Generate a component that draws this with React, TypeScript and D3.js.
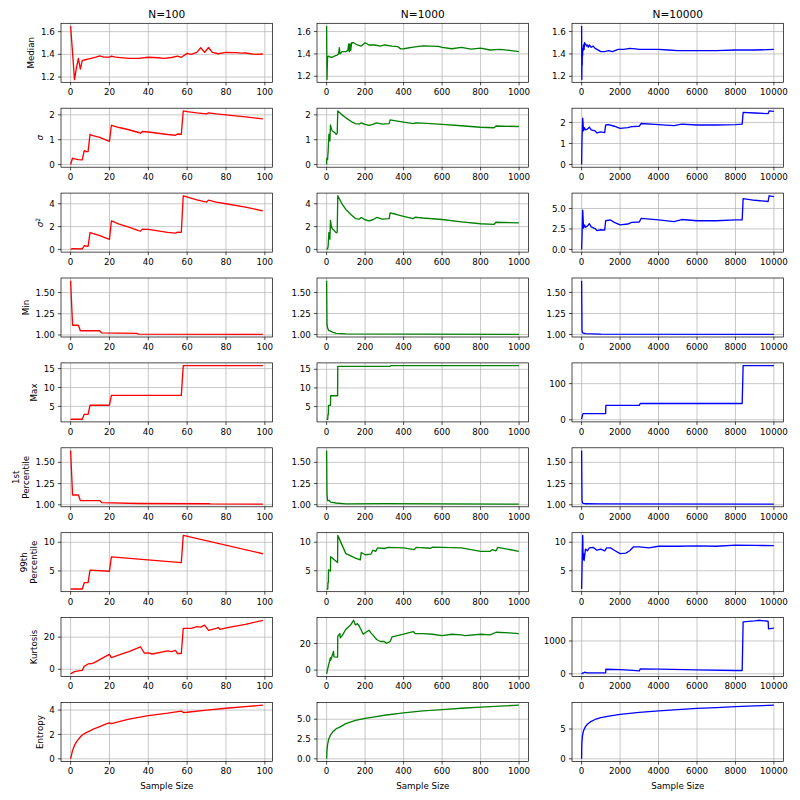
import { useEffect, useRef } from 'react'
import * as d3 from 'd3'

type Pt = [number, number]

const sampleSizes = [100, 1000, 10000]
const lineColors = ['#ff0000', '#008000', '#0000ff']
const rowLabels = [
  ['Median'], ['σ'], ['σ2'], ['Min'], ['Max'],
  ['1st', 'Percentile'], ['99th', 'Percentile'], ['Kurtosis'], ['Entropy'],
]
const xTicks = [
  [0, 20, 40, 60, 80, 100],
  [0, 200, 400, 600, 800, 1000],
  [0, 2000, 4000, 6000, 8000, 10000],
]
// y ticks per row, per column
const yTicks = [
  [[1.2, 1.4, 1.6], [1.2, 1.4, 1.6], [1.2, 1.4, 1.6]],
  [[0, 1, 2], [0, 1, 2], [0, 1, 2]],
  [[0, 2, 4], [0, 2, 4], [0, 2.5, 5]],
  [[1, 1.25, 1.5], [1, 1.25, 1.5], [1, 1.25, 1.5]],
  [[5, 10, 15], [5, 10, 15], [0, 100]],
  [[1, 1.25, 1.5], [1, 1.25, 1.5], [1, 1.25, 1.5]],
  [[5, 10], [5, 10], [5, 10]],
  [[0, 20], [0, 20], [0, 1000]],
  [[0, 2, 4], [0, 2.5, 5], [0, 5]],
]

// ---- N=100 ----
const medianN100: Pt[] = [[0,1.65],[2,1.177],[3,1.28],[4,1.365],[5,1.27],[6,1.345],[7,1.35],[10,1.362],[13,1.375],[15,1.387],[17,1.375],[20,1.375],[21,1.385],[23,1.375],[30,1.365],[35,1.365],[40,1.374],[45,1.37],[48,1.365],[52,1.372],[55,1.385],[57,1.374],[60,1.408],[62,1.4],[65,1.417],[67,1.458],[69,1.417],[71,1.46],[73,1.417],[76,1.405],[80,1.417],[85,1.415],[88,1.41],[90,1.412],[95,1.4],[99,1.403]]
const sigmaN100: Pt[] = [[0,0],[1,0.26],[2,0.23],[4,0.2],[6,0.19],[7,0.56],[8,0.52],[9,0.52],[10,1.22],[11,1.17],[15,1.09],[20,0.93],[21,1.58],[25,1.49],[30,1.4],[35,1.29],[36,1.26],[37,1.33],[40,1.31],[45,1.26],[50,1.21],[54,1.18],[55,1.23],[57,1.22],[58,2.16],[60,2.13],[65,2.08],[70,2.04],[71,2.08],[75,2.04],[80,2.0],[90,1.92],[99,1.84]]
const varN100: Pt[] = [[0,0],[1,0.07],[6,0.04],[7,0.32],[9,0.27],[10,1.48],[15,1.2],[20,0.87],[21,2.5],[25,2.22],[30,1.95],[35,1.65],[36,1.6],[37,1.78],[40,1.75],[50,1.5],[54,1.42],[55,1.52],[57,1.5],[58,4.7],[65,4.35],[70,4.15],[71,4.32],[75,4.15],[80,4.0],[90,3.7],[99,3.38]]
const minN100: Pt[] = [[0,1.64],[1,1.115],[4,1.115],[5,1.05],[15,1.05],[16,1.025],[34,1.02],[35,1.01],[99,1.008]]
const maxN100: Pt[] = [[0,1.6],[6,1.6],[7,2.9],[9,2.9],[10,5.3],[20,5.3],[21,7.9],[57,7.9],[58,15.8],[99,15.8]]
const p1N100: Pt[] = [[0,1.64],[1,1.115],[4,1.115],[5,1.05],[15,1.05],[16,1.025],[35,1.015],[71,1.012],[72,1.01],[99,1.008]]
const p99N100: Pt[] = [[0,1.85],[6,1.85],[7,2.95],[9,2.95],[10,5.15],[20,4.95],[21,7.45],[57,6.45],[58,11.2],[99,8.0]]
const kurtN100: Pt[] = [[0,-2.9],[2,-1.5],[4,-1.0],[6,-0.7],[7,1.8],[9,3.3],[11,3.6],[12,4.0],[15,6],[18,8],[20,9.3],[21,7.3],[25,9],[30,11],[36,14],[37,12],[38,10],[40,10.2],[42,9.5],[50,11.5],[52,11],[54,11.7],[55,9.8],[57,9.8],[58,25.5],[62,25.5],[65,26.5],[67,26.2],[69,27.5],[71,24.2],[75,25.5],[76,26],[77,24.8],[80,25.8],[90,28],[99,30.5]]
const entN100: Pt[] = [[0,0],[1,0.69],[2,1.1],[3,1.39],[4,1.6],[5,1.79],[6,1.95],[7,2.05],[8,2.15],[10,2.3],[12,2.45],[15,2.65],[18,2.85],[20,2.95],[21,2.88],[25,3.05],[30,3.25],[40,3.55],[50,3.75],[57,3.92],[58,3.8],[60,3.82],[70,4.0],[80,4.15],[90,4.28],[99,4.4]]

// ---- N=1000 ----
const medianN1000: Pt[] = [[0,1.65],[2,1.17],[3,1.25],[5,1.37],[10,1.38],[20,1.37],[30,1.37],[40,1.38],[55,1.39],[62,1.4],[66,1.455],[70,1.4],[80,1.42],[100,1.42],[110,1.43],[115,1.49],[118,1.42],[122,1.49],[125,1.43],[130,1.5],[140,1.5],[160,1.48],[180,1.47],[200,1.5],[220,1.48],[250,1.48],[280,1.47],[300,1.48],[340,1.47],[370,1.465],[385,1.445],[400,1.446],[450,1.46],[500,1.472],[580,1.467],[600,1.458],[650,1.446],[700,1.458],[750,1.443],[800,1.452],[850,1.435],[900,1.44],[950,1.432],[999,1.42]]
const sigmaN1000: Pt[] = [[0,0],[1,0.25],[5,0.2],[8,0.55],[12,1.22],[17,0.95],[20,1.59],[25,1.42],[30,1.35],[40,1.3],[50,1.22],[55,1.25],[58,2.16],[80,2.0],[100,1.88],[130,1.72],[150,1.65],[170,1.63],[180,1.68],[200,1.62],[220,1.58],[240,1.62],[260,1.68],[290,1.63],[325,1.65],[330,1.8],[360,1.76],[400,1.71],[450,1.65],[460,1.68],[500,1.67],[600,1.62],[700,1.56],[800,1.5],[870,1.48],[880,1.55],[999,1.53]]
const varN1000: Pt[] = [[0,0],[5,0.05],[8,0.3],[12,1.5],[17,0.9],[20,2.55],[25,2.0],[30,1.8],[40,1.65],[50,1.45],[55,1.5],[58,4.7],[80,4.0],[100,3.5],[130,3.0],[150,2.7],[170,2.65],[180,2.8],[200,2.6],[220,2.5],[240,2.6],[260,2.8],[290,2.65],[325,2.7],[330,3.2],[360,3.08],[400,2.9],[450,2.7],[460,2.82],[500,2.75],[600,2.62],[700,2.42],[800,2.25],[870,2.2],[880,2.38],[999,2.32]]
const minN1000: Pt[] = [[0,1.64],[2,1.12],[5,1.08],[10,1.05],[20,1.04],[30,1.03],[50,1.015],[100,1.008],[999,1.003]]
const maxN1000: Pt[] = [[0,1.6],[6,1.6],[7,2.9],[9,2.9],[10,5.3],[20,5.3],[21,7.9],[57,7.9],[58,15.8],[330,15.8],[335,16.0],[999,16.0]]
const p1N1000: Pt[] = [[0,1.64],[2,1.12],[5,1.05],[15,1.05],[20,1.03],[50,1.02],[100,1.01],[300,1.012],[999,1.007]]
const p99N1000: Pt[] = [[0,1.8],[6,1.8],[7,2.95],[9,2.95],[10,5.15],[20,4.95],[21,7.45],[57,6.45],[58,11.2],[100,8.0],[150,7.2],[175,6.9],[180,8.2],[200,7.8],[230,7.9],[240,8.6],[255,8.4],[265,9.0],[300,8.9],[320,9.1],[400,9.0],[455,8.7],[465,9.1],[540,8.95],[550,9.15],[600,9.1],[700,9.0],[800,8.4],[850,8.4],[860,8.7],[880,8.5],[890,9.1],[999,8.4]]
const kurtN1000: Pt[] = [[0,-2.9],[7,1.8],[20,9.3],[21,7.3],[36,14],[38,10],[55,9.8],[57,9.8],[58,25.5],[69,27.5],[71,24.2],[80,25.8],[99,30.5],[110,32],[125,34],[140,37.5],[150,34],[160,35],[170,33],[180,30],[190,27],[210,29],[220,30],[230,28],[240,26.5],[260,23],[280,21.5],[300,21.5],[310,20.2],[330,21.5],[340,25],[400,27],[450,29],[460,27.5],[500,27.5],[550,27],[600,26],[650,27],[700,26.5],[720,26],[800,27],[850,26.5],[880,28.5],[950,28],[999,27.5]]
const entN1000: Pt[] = [[0,0],[2,1.1],[5,1.8],[10,2.4],[20,3.0],[30,3.35],[50,3.8],[60,3.9],[75,4.1],[100,4.45],[150,4.85],[200,5.1],[250,5.3],[300,5.5],[400,5.8],[500,6.05],[600,6.2],[700,6.38],[800,6.52],[900,6.65],[999,6.77]]

// ---- N=10000 ----
const medianN10000: Pt[] = [[0,1.65],[10,1.17],[20,1.35],[30,1.3],[40,1.42],[50,1.38],[60,1.45],[80,1.43],[100,1.48],[130,1.44],[150,1.5],[200,1.49],[250,1.47],[300,1.48],[350,1.46],[400,1.48],[500,1.46],[600,1.47],[700,1.45],[800,1.44],[1000,1.42],[1200,1.42],[1400,1.43],[1600,1.42],[1900,1.44],[2200,1.44],[2500,1.45],[2800,1.445],[3000,1.44],[4000,1.44],[4500,1.435],[5000,1.43],[6000,1.43],[7000,1.43],[8000,1.435],[9000,1.435],[9999,1.44]]
const sigmaN10000: Pt[] = [[0,0],[20,1.2],[58,2.2],[100,1.6],[150,1.75],[200,1.65],[300,1.68],[400,1.78],[500,1.65],[700,1.6],[800,1.5],[1000,1.55],[1200,1.52],[1250,1.88],[1400,1.9],[1700,1.82],[2000,1.72],[2400,1.75],[2600,1.8],[3000,1.82],[3100,1.95],[4000,1.9],[4800,1.85],[5200,1.92],[6000,1.88],[7000,1.88],[8000,1.9],[8350,1.92],[8400,2.48],[9000,2.45],[9700,2.42],[9750,2.55],[9999,2.53]]
const varN10000: Pt[] = [[0,0],[20,1.5],[58,4.8],[100,2.6],[150,3.0],[200,2.7],[300,2.85],[400,3.15],[500,2.75],[700,2.55],[800,2.3],[1000,2.4],[1200,2.35],[1250,3.5],[1500,3.6],[1700,3.3],[2000,3.0],[2400,3.1],[2600,3.3],[3000,3.35],[3100,3.8],[4000,3.6],[4800,3.4],[5200,3.65],[6000,3.5],[7000,3.5],[8000,3.6],[8350,3.6],[8400,6.2],[9000,6.0],[9700,5.85],[9750,6.55],[9999,6.45]]
const minN10000: Pt[] = [[0,1.64],[20,1.05],[50,1.02],[200,1.01],[1000,1.005],[9999,1.002]]
const maxN10000: Pt[] = [[0,1.6],[58,15.8],[100,17],[1250,17],[1260,40],[3000,40],[3050,45],[8350,45],[8400,150],[9999,150]]
const p1N10000: Pt[] = [[0,1.64],[20,1.05],[50,1.02],[200,1.012],[1000,1.01],[9999,1.008]]
const p99N10000: Pt[] = [[0,1.8],[20,5],[58,11.2],[80,7.0],[100,8.0],[130,6.8],[200,8.8],[300,8.5],[400,9.0],[600,9.1],[800,8.6],[1000,8.8],[1200,8.5],[1300,9.0],[1500,9.0],[1700,8.6],[2000,8.0],[2300,8.1],[2500,8.5],[2700,9.2],[3000,9.2],[3500,9.0],[4000,9.3],[5000,9.3],[6000,9.35],[7000,9.3],[8000,9.5],[9000,9.45],[9999,9.4]]
const kurtN10000: Pt[] = [[0,-3],[58,25],[100,30],[150,50],[300,30],[1250,30],[1260,140],[2000,130],[2500,110],[3000,90],[3050,150],[4000,145],[6000,120],[8000,100],[8350,100],[8400,1580],[9000,1610],[9200,1630],[9700,1600],[9720,1370],[9999,1390]]
const entN10000: Pt[] = [[0,0],[5,1.8],[10,2.3],[20,3.0],[50,4.0],[100,4.7],[200,5.4],[300,5.8],[500,6.3],[700,6.6],[1000,6.9],[1500,7.2],[2000,7.45],[3000,7.8],[4000,8.05],[5000,8.25],[6000,8.45],[7000,8.6],[8000,8.75],[9000,8.88],[9999,9.0]]

const series: Pt[][][] = [
  [medianN100, medianN1000, medianN10000],
  [sigmaN100, sigmaN1000, sigmaN10000],
  [varN100, varN1000, varN10000],
  [minN100, minN1000, minN10000],
  [maxN100, maxN1000, maxN10000],
  [p1N100, p1N1000, p1N10000],
  [p99N100, p99N1000, p99N10000],
  [kurtN100, kurtN1000, kurtN10000],
  [entN100, entN1000, entN10000],
]

const W = 800
const H = 800
const colLeft = [61, 317, 572]
const axW = 211.5
const axH = 59
const rowTop = 23.3
const rowStep = 84.9
const font = 'DejaVu Sans, sans-serif'
const tickSize = 8.7
const titleSize = 10.6

const decimals = (ticks: number[]) =>
  d3.max(ticks, t => (String(t).split('.')[1] ?? '').length) ?? 0

export default function App() {
  const svgRef = useRef<SVGSVGElement>(null)

  useEffect(() => {
    document.body.style.margin = '0'
    if (!svgRef.current) return
    const svg = d3.select(svgRef.current)
    svg.selectAll('*').remove()
    svg.append('rect').attr('width', W).attr('height', H).attr('fill', '#ffffff')

    series.forEach((row, r) => {
      row.forEach((data, c) => {
        const left = colLeft[c]
        const top = rowTop + r * rowStep
        const xr = sampleSizes[c] - 1
        const x = d3.scaleLinear().domain([-0.05 * xr, xr * 1.05]).range([left, left + axW])
        const [lo, hi] = d3.extent(data, d => d[1]) as [number, number]
        const pad = (hi - lo) * 0.05
        const y = d3.scaleLinear().domain([lo - pad, hi + pad]).range([top + axH, top])
        const g = svg.append('g')

        // grid
        xTicks[c].forEach(t => {
          g.append('line')
            .attr('x1', x(t)).attr('x2', x(t))
            .attr('y1', top).attr('y2', top + axH)
            .attr('stroke', '#b0b0b0').attr('stroke-width', 0.7)
        })
        const yt = yTicks[r][c]
        yt.forEach(t => {
          g.append('line')
            .attr('x1', left).attr('x2', left + axW)
            .attr('y1', y(t)).attr('y2', y(t))
            .attr('stroke', '#b0b0b0').attr('stroke-width', 0.7)
        })

        // data line
        const line = d3.line<Pt>().x(d => x(d[0])).y(d => y(d[1]))
        g.append('path')
          .attr('d', line(data) ?? '')
          .attr('fill', 'none')
          .attr('stroke', lineColors[c])
          .attr('stroke-width', 1.33)
          .attr('stroke-linejoin', 'round')

        // spines
        g.append('rect')
          .attr('x', left).attr('y', top)
          .attr('width', axW).attr('height', axH)
          .attr('fill', 'none').attr('stroke', '#000').attr('stroke-width', 0.7)

        // x ticks
        xTicks[c].forEach(t => {
          g.append('line')
            .attr('x1', x(t)).attr('x2', x(t))
            .attr('y1', top + axH).attr('y2', top + axH + 3.1)
            .attr('stroke', '#000').attr('stroke-width', 0.7)
          g.append('text')
            .attr('x', x(t)).attr('y', top + axH + 6.2)
            .attr('dy', '0.76em')
            .attr('text-anchor', 'middle')
            .attr('font-family', font).attr('font-size', tickSize)
            .attr('fill', '#000')
            .text(String(t))
        })

        // y ticks
        const dec = decimals(yt)
        let maxW = 0
        yt.forEach(t => {
          g.append('line')
            .attr('x1', left - 3.1).attr('x2', left)
            .attr('y1', y(t)).attr('y2', y(t))
            .attr('stroke', '#000').attr('stroke-width', 0.7)
          const txt = g.append('text')
            .attr('x', left - 6.2).attr('y', y(t))
            .attr('dy', '0.36em')
            .attr('text-anchor', 'end')
            .attr('font-family', font).attr('font-size', tickSize)
            .attr('fill', '#000')
            .text(t.toFixed(dec))
          maxW = Math.max(maxW, (txt.node() as SVGTextElement).getComputedTextLength())
        })

        if (r === 0) {
          svg.append('text')
            .attr('x', left + axW / 2).attr('y', top - 5.3)
            .attr('text-anchor', 'middle')
            .attr('font-family', font).attr('font-size', titleSize)
            .attr('fill', '#000')
            .text(`N=${sampleSizes[c]}`)
        }

        if (c === 0) {
          const lines = rowLabels[r]
          const baseX = left - 6.2 - maxW - 4.5 - 2.1
          const cy = top + axH / 2
          lines.forEach((ln, i) => {
            const bx = baseX - (lines.length - 1 - i) * 9.8
            const t = svg.append('text')
              .attr('transform', `translate(${bx},${cy}) rotate(-90)`)
              .attr('text-anchor', 'middle')
              .attr('font-family', font).attr('font-size', tickSize)
              .attr('fill', '#000')
            if (ln.startsWith('σ')) {
              t.append('tspan').attr('font-style', 'italic').text('σ')
              if (ln.length > 1) {
                t.append('tspan').attr('font-size', tickSize * 0.7).attr('dy', '-0.45em').text(ln.slice(1))
              }
            } else {
              t.text(ln)
            }
          })
        }

        if (r === series.length - 1) {
          svg.append('text')
            .attr('x', left + axW / 2).attr('y', top + axH + 27)
            .attr('text-anchor', 'middle')
            .attr('font-family', font).attr('font-size', tickSize)
            .attr('fill', '#000')
            .text('Sample Size')
        }
      })
    })
  }, [])

  return <svg ref={svgRef} width={W} height={H} style={{ display: 'block' }} />
}
